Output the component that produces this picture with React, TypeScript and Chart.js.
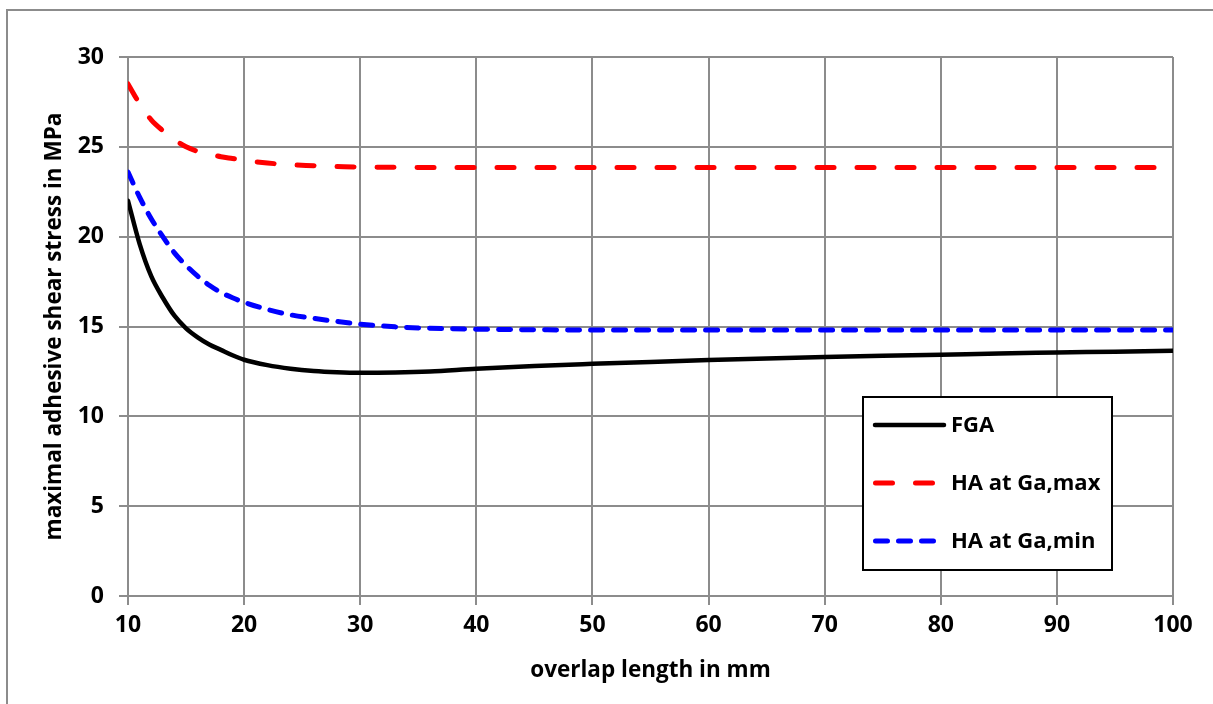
import React, { useEffect, useRef } from "react";
import { Chart, registerables } from "chart.js";

Chart.register(...registerables);

const xValues = [10, 11, 12, 13, 14, 15, 16, 17, 18, 19, 20, 22, 24, 26, 28, 30, 33, 36, 40, 45, 50, 55, 60, 65, 70, 75, 80, 85, 90, 95, 100];

const fgaValues = [22.0, 19.6, 17.8, 16.6, 15.6, 14.9, 14.4, 14.0, 13.7, 13.4, 13.15, 12.85, 12.65, 12.52, 12.45, 12.42, 12.44, 12.5, 12.65, 12.8, 12.92, 13.03, 13.13, 13.22, 13.3, 13.37, 13.43, 13.5, 13.55, 13.6, 13.65];

const haMaxValues = [28.5, 27.4, 26.5, 25.9, 25.4, 25.0, 24.75, 24.6, 24.45, 24.35, 24.25, 24.1, 24.0, 23.95, 23.9, 23.88, 23.86, 23.85, 23.85, 23.85, 23.85, 23.85, 23.85, 23.85, 23.85, 23.85, 23.85, 23.85, 23.85, 23.85, 23.85];

const haMinValues = [23.6, 22.2, 21.0, 20.0, 19.1, 18.4, 17.8, 17.3, 16.9, 16.6, 16.35, 15.95, 15.65, 15.45, 15.28, 15.13, 14.98, 14.9, 14.85, 14.82, 14.8, 14.8, 14.8, 14.8, 14.8, 14.8, 14.8, 14.8, 14.8, 14.8, 14.8];

const seriesNames = ["FGA", "HA at Ga,max", "HA at Ga,min"];
const xTitle = "overlap length in mm";
const yTitle = "maximal adhesive shear stress in MPa";

const FONT = "'Open Sans', sans-serif";
const GRID = "#8c8c8c";

const frame = {
  id: "frame",
  afterDraw(chart: any) {
    const ctx = chart.ctx;
    ctx.save();
    ctx.strokeStyle = GRID;
    ctx.lineWidth = 2;
    ctx.beginPath();
    ctx.moveTo(7, 704);
    ctx.lineTo(7, 10);
    ctx.lineTo(1213, 10);
    ctx.stroke();
    ctx.restore();
  },
};

const legendBox = {
  id: "legendBox",
  afterDraw(chart: any) {
    const ctx = chart.ctx;
    const ds = chart.data.datasets;
    const left = 863, top = 397, right = 1112, bottom = 570;
    ctx.save();
    ctx.fillStyle = "#fff";
    ctx.fillRect(left, top, right - left, bottom - top);
    ctx.strokeStyle = "#000";
    ctx.lineWidth = 2;
    ctx.strokeRect(left, top, right - left, bottom - top);
    const rows = [425, 483, 541];
    ds.forEach((d: any, i: number) => {
      const y = rows[i];
      ctx.save();
      ctx.strokeStyle = d.borderColor;
      ctx.lineWidth = d.borderWidth;
      ctx.lineCap = "round";
      ctx.setLineDash(d.borderDash || []);
      ctx.beginPath();
      if (d.borderDash && d.borderDash.length) {
        ctx.moveTo(875.5, y);
        ctx.lineTo(935, y);
      } else {
        ctx.moveTo(875, y);
        ctx.lineTo(944, y);
      }
      ctx.stroke();
      ctx.restore();
      ctx.fillStyle = "#000";
      ctx.font = `bold 22px ${FONT}`;
      ctx.textBaseline = "middle";
      ctx.textAlign = "left";
      ctx.fillText(d.label, 951, y + 1);
    });
    ctx.restore();
  },
};

export default function App() {
  const ref = useRef<HTMLCanvasElement>(null);
  useEffect(() => {
    if (!ref.current) return;
    const mk = (vals: number[]) => xValues.map((x, i) => ({ x, y: vals[i] }));
    const chart = new Chart(ref.current, {
      type: "line",
      data: {
        datasets: [
          {
            label: seriesNames[0],
            data: mk(fgaValues),
            borderColor: "#000000",
            borderWidth: 4.5,
            pointRadius: 0,
            cubicInterpolationMode: "monotone",
            borderCapStyle: "round",
          },
          {
            label: seriesNames[1],
            data: mk(haMaxValues),
            borderColor: "#ff0000",
            borderWidth: 5,
            borderDash: [17, 23],
            pointRadius: 0,
            cubicInterpolationMode: "monotone",
            borderCapStyle: "round",
          },
          {
            label: seriesNames[2],
            data: mk(haMinValues),
            borderColor: "#0000ff",
            borderWidth: 5,
            borderDash: [12, 11],
            pointRadius: 0,
            cubicInterpolationMode: "monotone",
            borderCapStyle: "round",
          },
        ],
      },
      options: {
        responsive: false,
        animation: false,
        layout: { padding: { left: 0, right: 40, top: 57, bottom: 0 } },
        plugins: { legend: { display: false }, tooltip: { enabled: false } },
        scales: {
          x: {
            type: "linear",
            min: 10,
            max: 100,
            afterFit: (s: any) => { s.height = 108; },
            ticks: { stepSize: 10, color: "#000", font: { family: FONT, size: 23, weight: "bold" }, padding: 7 },
            grid: { color: GRID, lineWidth: 2, tickLength: 9 },
            border: { color: GRID, width: 2 },
            title: { display: true, text: xTitle, color: "#000", font: { family: FONT, size: 22.5, weight: "bold" }, padding: { top: 0, bottom: 19.5 } },
          },
          y: {
            min: 0,
            max: 30,
            afterFit: (s: any) => { s.width = 128; },
            ticks: { stepSize: 5, color: "#000", font: { family: FONT, size: 23, weight: "bold" }, padding: 15 },
            grid: { color: GRID, lineWidth: 2, tickLength: 9 },
            border: { color: GRID, width: 2 },
            title: { display: true, text: yTitle, color: "#000", font: { family: FONT, size: 22.5, weight: "bold" }, padding: { top: 41.5, bottom: 0 } },
          },
        },
      },
      plugins: [frame, legendBox],
    });
    return () => chart.destroy();
  }, []);
  return (
    <div style={{ position: "fixed", left: 0, top: 0, width: 1213, height: 704, background: "#fff" }}>
      <canvas ref={ref} width={1213} height={704} />
    </div>
  );
}
